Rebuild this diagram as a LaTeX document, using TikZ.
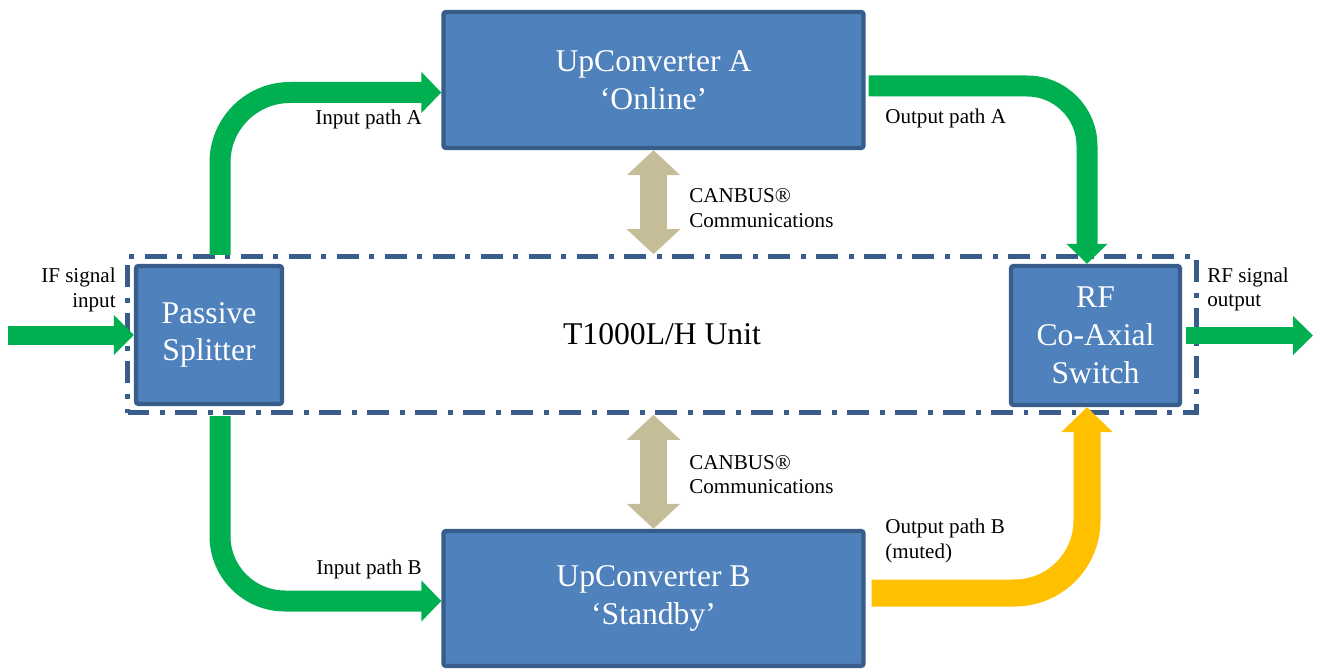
\documentclass[tikz,border=0pt]{standalone}
\usepackage{fontspec}
\setmainfont{Liberation Serif}
\usetikzlibrary{positioning,arrows.meta,calc}
\definecolor{boxfill}{HTML}{4F81BD}
\definecolor{boxline}{HTML}{385D8A}
\definecolor{sigok}{HTML}{00B050}
\definecolor{sigmute}{HTML}{FFC000}
\definecolor{canbus}{HTML}{C4BD97}

\begin{document}
\begin{tikzpicture}[
 block/.style={rectangle,rounded corners=1.5pt,draw=boxline,line width=2.5pt,fill=boxfill,
  text=white,align=center,font=\fontsize{18}{21.5}\selectfont},
 unitbox/.style={rectangle,draw=boxline,line width=2.6pt,
  dash pattern=on 12.5pt off 6pt on 2.8pt off 6pt,font=\fontsize{18}{21.5}\selectfont},
 lbl/.style={font=\fontsize{12}{14}\selectfont,inner sep=0pt},
 sigpath/.style={line width=0.42cm,rounded corners=1.4cm,-{Triangle[width=0.8cm,length=0.4cm]}},
 mutepath/.style={line width=0.54cm,rounded corners=1.45cm,-{Triangle[width=1.0cm,length=0.5cm]}},
 busarrow/.style={canbus,line width=0.54cm,
  {Triangle[width=1.04cm,length=0.5cm]}-{Triangle[width=1.04cm,length=0.5cm]}}]
\useasboundingbox (0,0) rectangle (26.38,-13.4);
% unit outline and blocks
\node[unitbox,minimum width=21.38cm,minimum height=3.12cm] (unit) at (13.24,-6.69) {T1000L/H Unit};
\node[block,minimum width=8.4cm,minimum height=2.72cm] (upA) at (13.07,-1.6) {UpConverter A\\`Online'};
\node[block,minimum width=8.4cm,minimum height=2.7cm] (upB) at (13.07,-11.97) {UpConverter B\\`Standby'};
\node[block,minimum width=2.92cm,minimum height=2.76cm] (split) at (4.18,-6.7) {Passive\\Splitter};
\node[block,minimum width=3.38cm,minimum height=2.78cm] (sw) at (21.91,-6.71) {RF\\Co-Axial\\Switch};
\coordinate (ifin) at (0.16,-6.7);
\coordinate (rfout) at (26.26,-6.71);
% signal paths
\draw[sigok,line width=0.38cm,-{Triangle[width=0.78cm,length=0.4cm]}] (ifin) -- (split.west);
\draw[sigpath,sigok] ($(split.north)+(0.22,0.18)$) |- ($(upA.west)+(0,-0.25)$);
\draw[sigpath,sigok,rounded corners=1.3cm] ($(split.south)+(0.22,-0.2)$) |- ($(upB.west)+(0,-0.05)$);
\draw[sigpath,sigok,rounded corners=1.2cm] ($(upA.east)+(0.06,-0.12)$) -| ($(sw.north)+(-0.17,0)$);
\draw[mutepath,sigmute] ($(upB.east)+(0.12,0.11)$) -| ($(sw.south)+(-0.17,0)$);
\draw[sigok,line width=0.35cm,-{Triangle[width=0.76cm,length=0.4cm]}] ($(sw.east)+(0.08,0)$) -- (rfout);
% CANBUS links
\draw[busarrow] (upA.south) -- (upA.south |- unit.north);
\draw[busarrow] (upB.north |- unit.south) -- (upB.north);
% labels
\node[lbl,anchor=east,align=right] (iflbl) at (2.32,-5.8) {IF signal\\input};
\node[lbl,anchor=west,align=left] (rflbl) at (24.14,-5.79) {RF signal\\output};
\node[lbl,anchor=west] (inAlbl) at (6.3,-2.38) {Input path A};
\node[lbl,anchor=west] (inBlbl) at (6.32,-11.38) {Input path B};
\node[lbl,anchor=west] (outAlbl) at (17.7,-2.36) {Output path A};
\node[lbl,anchor=west,align=left] (outBlbl) at (17.7,-10.82) {Output path B\\(muted)};
\node[lbl,anchor=west,align=left] (busAlbl) at (13.78,-4.16) {CANBUS®\\Communications};
\node[lbl,anchor=west,align=left] (busBlbl) at (13.78,-9.49) {CANBUS®\\Communications};
\end{tikzpicture}
\end{document}
